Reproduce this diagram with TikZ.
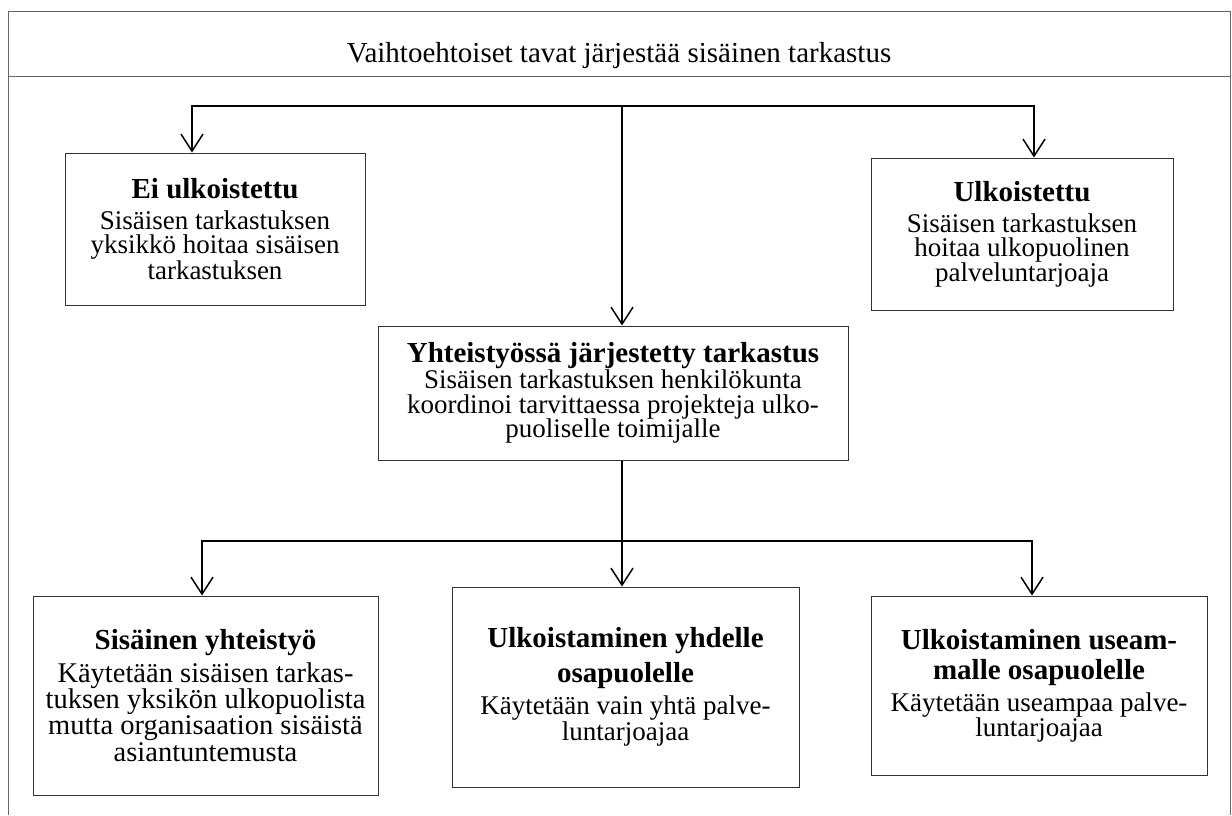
\documentclass[tikz,border=0pt]{standalone}
\usepackage{fontspec}
\setmainfont{Liberation Serif}
\usetikzlibrary{arrows.meta}

\newcommand{\boxhead}[1]{{\fontsize{29}{30}\selectfont\bfseries #1}}

\tikzset{
  box/.style={draw=black!80, line width=1pt, align=center, inner sep=0pt,
    font=\fontsize{27}{24.5}\selectfont},
  conn/.style={line width=2pt,
    -{Straight Barb[length=17pt,width=22pt,line width=1.5pt]}},
}

\begin{document}
\begin{tikzpicture}[x=1pt, y=-1pt]
    \useasboundingbox (0,0) rectangle (1232,815);

    % frame and title
    \draw[black!60, line width=1pt] (8,815) -- (8,11) -- (1230,11) -- (1230,815);
    \draw[black!60, line width=1pt] (8,76) -- (1230,76);
    \node[anchor=base, font=\fontsize{29}{30}\selectfont] (title) at (619,62)
        {Vaihtoehtoiset tavat järjestää sisäinen tarkastus};

    % upper level
    \node[box, minimum width=300pt, minimum height=152pt] (eiulk) at (215,229)
        {\boxhead{Ei ulkoistettu}\\[6.5pt] Sisäisen tarkastuksen\\ yksikkö hoitaa sisäisen\\ tarkastuksen};
    \node[box, minimum width=302pt, minimum height=152pt] (ulk) at (1022,234)
        {\boxhead{Ulkoistettu}\\[6.5pt] Sisäisen tarkastuksen\\ hoitaa ulkopuolinen\\ palveluntarjoaja};
    \node[box, minimum width=470pt, minimum height=134pt] (yht) at (613,393)
        {\boxhead{Yhteistyössä järjestetty tarkastus}\\[0.5pt] Sisäisen tarkastuksen henkilökunta\\
         koordinoi tarvittaessa projekteja ulko-\\ puoliselle toimijalle};

    % lower level
    \node[box, font=\fontsize{28.5}{26.3}\selectfont, minimum width=345pt, minimum height=199pt]
        (sis) at (205.5,695.5)
        {\boxhead{Sisäinen yhteistyö}\\[6pt] Käytetään sisäisen tarkas-\\ tuksen yksikön ulkopuolista\\
         mutta organisaation sisäistä\\ asiantuntemusta};
    \node[box, font=\fontsize{27}{26.5}\selectfont, minimum width=347pt, minimum height=200pt]
        (yksi) at (625.5,687)
        {\boxhead{Ulkoistaminen yhdelle}\\[8pt] \boxhead{osapuolelle}\\[5.5pt]
         Käytetään vain yhtä palve-\\ luntarjoajaa};
    \node[box, font=\fontsize{27}{25}\selectfont, minimum width=336pt, minimum height=179pt]
        (usea) at (1039,685.5)
        {\boxhead{Ulkoistaminen useam-}\\[5pt] \boxhead{malle osapuolelle}\\[7pt]
         Käytetään useampaa palve-\\ luntarjoajaa};

    % connectors
    \coordinate (jtop) at (622,106);
    \coordinate (jbot) at (622,541);
    \draw[conn] (jtop) -| ([xshift=-23pt]eiulk.north);
    \draw[conn] (jtop) -| ([xshift=12pt]ulk.north);
    \draw[conn] (jtop) -- (jtop |- yht.north);
    \draw[conn] (yht.south -| jbot) -- (jbot |- yksi.north);
    \draw[conn] (jbot) -| ([xshift=-3.5pt]sis.north);
    \draw[conn] (jbot) -| ([xshift=-7pt]usea.north);

\end{tikzpicture}
\end{document}
